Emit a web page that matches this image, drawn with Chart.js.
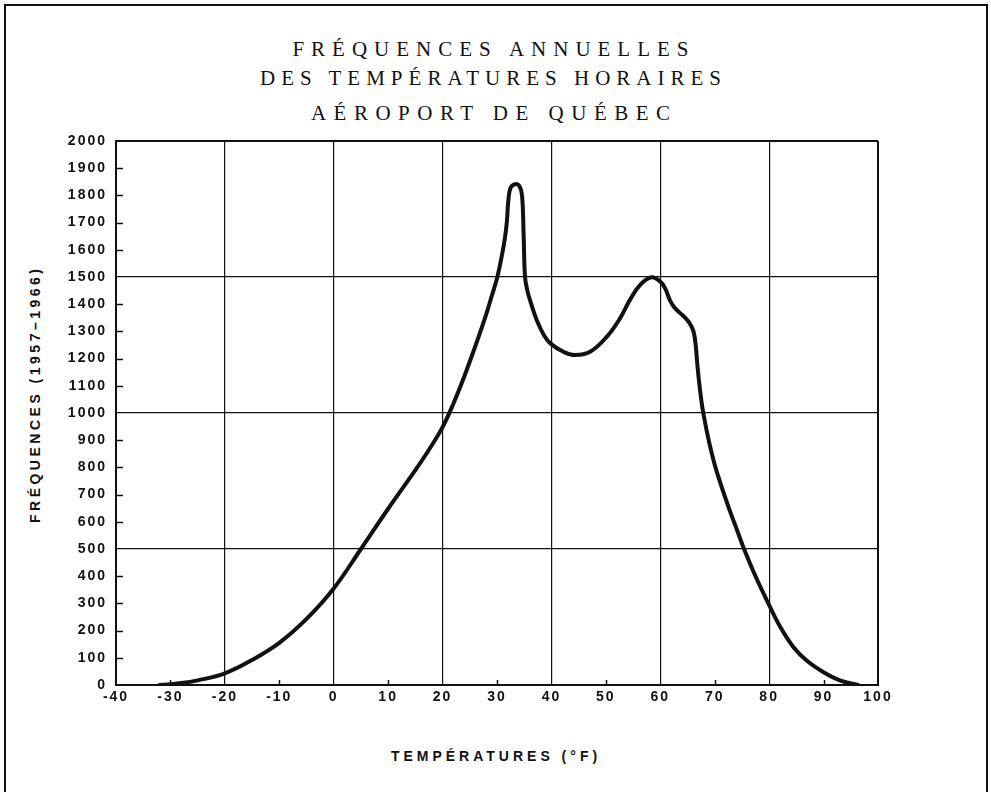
<!DOCTYPE html>
<html lang="fr">
<head>
    <meta charset="UTF-8">
    <title>Fréquences annuelles des températures horaires - Aéroport de Québec</title>
    <script src="https://cdn.jsdelivr.net/npm/chart.js"></script>
    <style>
        body { margin: 0; background: #fff; }
        .page { position: relative; width: 991px; height: 792px; overflow: hidden; }
        .cadre {
            position: absolute; left: 4px; top: 4px; width: 984px; height: 900px;
            box-sizing: border-box; border: 2px solid #111; border-bottom: none;
        }
        .titre {
            position: absolute; left: -5px; width: 991px; text-align: center;
            font-family: "Liberation Serif", serif; font-size: 21px; line-height: 24px; color: #111;
        }
        .axe {
            position: absolute; font-family: "Liberation Sans", sans-serif; font-weight: bold;
            font-size: 14px; line-height: 16px; color: #111; text-align: center; white-space: nowrap;
        }
        .axe-x { left: 194px; top: 748px; width: 600px; letter-spacing: 4px; padding-left: 4px; box-sizing: border-box; }
        .axe-y { left: -115px; top: 388px; width: 300px; letter-spacing: 3.5px; padding-left: 3.5px; box-sizing: border-box; transform: rotate(-90deg); }
        .chart-container { position: absolute; left: 0; top: 0; width: 991px; height: 792px; }
    </style>
</head>
<body>
<div class="page">
    <div class="cadre"></div>
    <div class="titre" style="top:37px; letter-spacing:7px; padding-left:7px; box-sizing:border-box;">FRÉQUENCES ANNUELLES</div>
    <div class="titre" style="top:66px; letter-spacing:6px; padding-left:6px; box-sizing:border-box;">DES TEMPÉRATURES HORAIRES</div>
    <div class="titre" style="top:101px; letter-spacing:7.5px; padding-left:7.5px; box-sizing:border-box;">AÉROPORT DE QUÉBEC</div>
    <div class="axe axe-y">FRÉQUENCES (1957–1966)</div>
    <div class="axe axe-x">TEMPÉRATURES (°F)</div>
    <div class="chart-container">
        <canvas id="frequencesChart"></canvas>
    </div>
</div>

<script>
    // Courbe (température °F, nombre d'heures)
    const temperatures = [-32, -28, -25, -20, -15, -10, -5, 0, 5, 10,
        15, 17.5, 20, 22, 24, 26, 28, 29, 30, 31,
        31.5, 31.8, 32.1, 32.5, 33.3, 34.1, 34.6, 34.9, 35.15, 35.6,
        36.3, 37.3, 38.6, 39.8, 42.2, 44.3, 47.1, 50.2, 52.6, 54.4,
        56.3, 58.4, 60, 60.9, 61.8, 62.6, 63.5, 64.5, 65.4, 66.1,
        66.5, 66.8, 67.3, 67.9, 69, 70, 71, 72, 73, 74,
        75.3, 77.5, 80, 82, 84.4, 87, 90, 93, 96.3];
    const frequences = [0, 7, 17, 43, 92, 155, 243, 355, 500, 648,
        790, 865, 948, 1035, 1135, 1245, 1362, 1428, 1495, 1590,
        1650, 1700, 1785, 1828, 1841, 1835, 1800, 1650, 1500, 1448,
        1400, 1342, 1287, 1256, 1225, 1213, 1225, 1281, 1348, 1415,
        1471, 1499, 1483, 1458, 1413, 1388, 1370, 1352, 1330, 1300,
        1250, 1180, 1085, 1000, 890, 810, 745, 685, 628, 575,
        505, 400, 294, 215, 141, 88, 47, 17, 0];

    // Graduations des axes
    const xMin = -40, xMax = 100, xPas = 10, xGrille = 20;
    const yMin = 0, yMax = 2000, yPas = 100, yGrille = 500;

    const encre = '#111';

    // petites graduations vers l'intérieur + espacement des chiffres
    const graduations = {
        id: 'graduations',
        beforeDraw(chart) {
            chart.ctx.letterSpacing = '2px';
        },
        beforeDatasetsDraw(chart) {
            const { ctx, chartArea, scales: { x, y } } = chart;
            ctx.save();
            ctx.strokeStyle = encre;
            ctx.lineWidth = 1.5;
            ctx.beginPath();
            y.ticks.forEach(t => {
                if (t.value % yGrille === 0) return;
                const py = Math.round(y.getPixelForValue(t.value)) + 0.5;
                ctx.moveTo(chartArea.left, py);
                ctx.lineTo(chartArea.left + 7, py);
            });
            x.ticks.forEach(t => {
                if (t.value % xGrille === 0) return;
                const px = Math.round(x.getPixelForValue(t.value)) + 0.5;
                ctx.moveTo(px, chartArea.bottom);
                ctx.lineTo(px, chartArea.bottom - 5);
            });
            ctx.stroke();
            ctx.restore();
        }
    };

    const policeTicks = { family: '"Liberation Sans", sans-serif', weight: 'bold', size: 14 };

    const ctx = document.getElementById('frequencesChart').getContext('2d');
    new Chart(ctx, {
        type: 'line',
        data: {
            datasets: [{
                data: temperatures.map((t, i) => ({ x: t, y: frequences[i] })),
                borderColor: encre,
                borderWidth: 4,
                pointRadius: 0,
                fill: false,
                tension: 0.4,
                borderCapStyle: 'round',
                borderJoinStyle: 'round'
            }]
        },
        options: {
            responsive: true,
            maintainAspectRatio: false,
            animation: false,
            layout: { padding: { left: 0, top: 141, right: 113, bottom: 67 } },
            plugins: {
                legend: { display: false },
                tooltip: { enabled: false }
            },
            scales: {
                x: {
                    type: 'linear',
                    min: xMin,
                    max: xMax,
                    afterFit: s => { s.height = 40; },
                    ticks: { stepSize: xPas, autoSkip: false, maxRotation: 0, color: encre, font: policeTicks, padding: 4,
                        callback: v => String(v) },
                    grid: {
                        drawTicks: false,
                        color: c => (c.tick && c.tick.value % xGrille === 0) ? encre : 'rgba(0,0,0,0)',
                        lineWidth: c => (c.tick && (c.tick.value === xMin || c.tick.value === xMax)) ? 2 : 1.2
                    },
                    border: { display: true, color: encre, width: 2 }
                },
                y: {
                    min: yMin,
                    max: yMax,
                    afterFit: s => { s.width = 116; },
                    ticks: { stepSize: yPas, autoSkip: false, color: encre, font: policeTicks, padding: 9,
                        callback: v => String(v) },
                    grid: {
                        drawTicks: false,
                        color: c => (c.tick && c.tick.value % yGrille === 0) ? encre : 'rgba(0,0,0,0)',
                        lineWidth: c => (c.tick && (c.tick.value === yMin || c.tick.value === yMax)) ? 2 : 1.2
                    },
                    border: { display: true, color: encre, width: 2 }
                }
            }
        },
        plugins: [graduations]
    });
</script>
</body>
</html>
